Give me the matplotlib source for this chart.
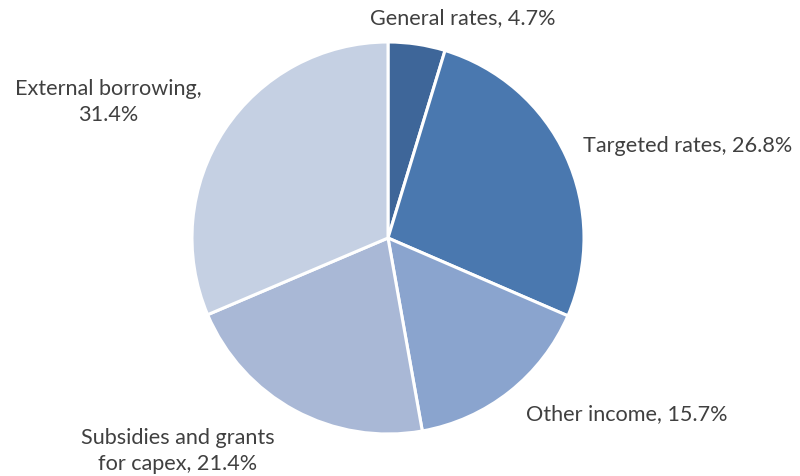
import matplotlib
matplotlib.use("Agg")
import matplotlib.pyplot as plt

categories = ["General rates", "Targeted rates", "Other income",
              "Subsidies and grants\nfor capex", "External borrowing"]
shares = [4.7, 26.8, 15.7, 21.4, 31.4]
colors = ["#3E6699", "#4A78AF", "#8AA4CE", "#A9B8D6", "#C5D0E3"]

W, H = 800, 476
fig = plt.figure(figsize=(W / 100, H / 100), dpi=100)
ax = fig.add_axes([0, 0, 1, 1])

ax.pie(shares, colors=colors, startangle=90, counterclock=False,
       center=(388, H - 238), radius=196,
       wedgeprops=dict(edgecolor="white", linewidth=2.2))
ax.set_xlim(0, W)
ax.set_ylim(0, H)
ax.set_aspect("equal")
ax.axis("off")

# label anchor points (pixel coordinates, y measured from top)
label_pos = [(463, 18, "center"), (583, 146, "left"), (627, 414, "center"),
             (178, 451, "center"), (108, 102, "center")]

for name, val, (x, y, ha) in zip(categories, shares, label_pos):
    if name.startswith("External"):
        txt = f"{name},\n{val}%"
    else:
        txt = f"{name}, {val}%"
    ax.text(x, H - y, txt, ha=ha, va="center", fontsize=15.6,
            family="Lato", color="#404040", linespacing=1.42,
            multialignment="center")

fig.savefig("out.png", dpi=100)
